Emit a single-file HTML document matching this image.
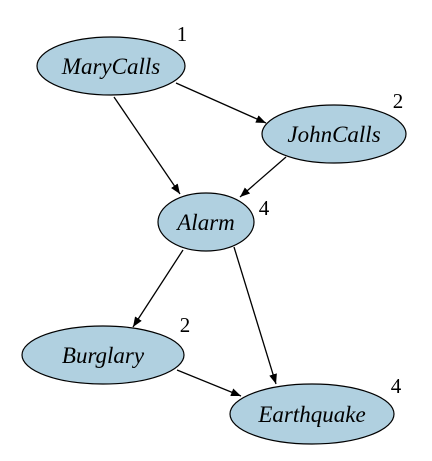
<!DOCTYPE html>
<html><head><style>html,body{margin:0;padding:0;background:#fff;} text{font-family:"Liberation Serif","DejaVu Serif",serif;}</style></head>
<body>
<svg width="432" height="456" viewBox="0 0 432 456" xmlns="http://www.w3.org/2000/svg">
<defs><marker id="a" markerWidth="10" markerHeight="8" refX="10" refY="4" orient="auto" markerUnits="userSpaceOnUse"><path d="M0,0 L10,4 L0,8 Z" fill="#000"/></marker></defs>
<g stroke="#000" stroke-width="1.3" marker-end="url(#a)">
<line x1="176" y1="83" x2="266" y2="123"/>
<line x1="114" y1="97" x2="180" y2="194"/>
<line x1="286" y1="157" x2="240" y2="197"/>
<line x1="183" y1="250" x2="133" y2="327"/>
<line x1="234" y1="247" x2="276" y2="384"/>
<line x1="177" y1="370" x2="241" y2="396"/>
</g>
<g fill="#b0d0e0" stroke="#000" stroke-width="1.2">
<ellipse cx="111" cy="66" rx="74" ry="29"/>
<ellipse cx="334" cy="134" rx="72" ry="29"/>
<ellipse cx="206" cy="222" rx="48" ry="29"/>
<ellipse cx="103" cy="355" rx="81" ry="29"/>
<ellipse cx="312" cy="414" rx="82" ry="30"/>
</g>
<g style="font-style:italic;font-size:23px" text-anchor="middle" fill="#000">
<text x="111" y="74">MaryCalls</text>
<text x="334" y="142">JohnCalls</text>
<text x="206" y="230">Alarm</text>
<text x="103" y="363">Burglary</text>
<text x="312" y="422">Earthquake</text>
</g>
<g style="font-size:21px" text-anchor="middle" fill="#000">
<text x="182" y="41">1</text>
<text x="398" y="108">2</text>
<text x="264" y="215">4</text>
<text x="185" y="332">2</text>
<text x="396" y="393">4</text>
</g>
</svg>
</body></html>
